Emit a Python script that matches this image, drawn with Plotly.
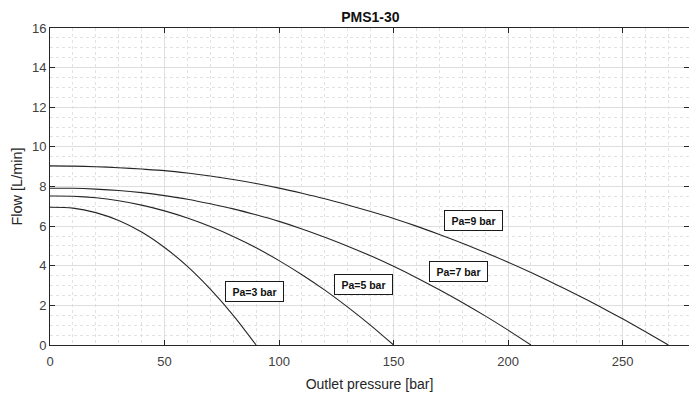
import plotly.graph_objects as go

# Outlet pressure [bar] sample positions and flow readings [L/min]
p3 = [0, 10, 20, 30, 40, 50, 60, 70, 80, 90]
q3 = [6.95, 6.91, 6.68, 6.28, 5.70, 4.92, 3.97, 2.82, 1.50, 0.0]

p5 = [0, 10, 20, 30, 40, 50, 60, 70, 80, 90, 100, 110, 120, 130, 140, 150]
q5 = [7.52, 7.51, 7.43, 7.28, 7.06, 6.77, 6.41, 5.98, 5.48, 4.91, 4.26, 3.55, 2.77, 1.91, 0.99, 0.0]

p7 = [0, 10, 20, 30, 40, 50, 60, 70, 80, 90, 100, 110, 120, 130, 140, 150,
      160, 170, 180, 190, 200, 210]
q7 = [7.91, 7.91, 7.87, 7.80, 7.69, 7.54, 7.36, 7.13, 6.87, 6.57, 6.24, 5.86,
      5.44, 4.99, 4.50, 3.97, 3.40, 2.79, 2.15, 1.47, 0.75, 0.0]

p9 = [0, 10, 20, 30, 40, 50, 60, 70, 80, 90, 100, 110, 120, 130, 140, 150,
      160, 170, 180, 190, 200, 210, 220, 230, 240, 250, 260, 270]
q9 = [9.04, 9.03, 9.00, 8.95, 8.88, 8.80, 8.68, 8.53, 8.35, 8.15, 7.92, 7.66,
      7.38, 7.07, 6.74, 6.39, 6.00, 5.58, 5.14, 4.67, 4.18, 3.66, 3.11, 2.54,
      1.94, 1.32, 0.67, 0.0]

label_texts = ["Pa=3 bar", "Pa=5 bar", "Pa=7 bar", "Pa=9 bar"]
label_x = [89.5, 137.0, 178.4, 185.0]
label_y = [2.68, 3.03, 3.70, 6.27]

x_ticks = [0, 50, 100, 150, 200, 250]
y_ticks = [0, 2, 4, 6, 8, 10, 12, 14, 16]

line_col = "#262626"
axis_col = "#262626"
font_fam = "Liberation Sans, Arial, Helvetica, sans-serif"

fig = go.Figure()
for px, qy in [(p3, q3), (p5, q5), (p7, q7), (p9, q9)]:
    fig.add_trace(go.Scatter(x=px, y=qy, mode="lines",
                             line=dict(color=line_col, width=1.1, shape="spline", smoothing=0.8),
                             showlegend=False, hoverinfo="skip"))

for t, lx, ly in zip(label_texts, label_x, label_y):
    fig.add_annotation(x=lx, y=ly, xref="x", yref="y", text="<b>" + t + "</b>",
                       showarrow=False, bgcolor="white", bordercolor="#1a1a1a",
                       borderwidth=1, borderpad=2, width=53, height=15,
                       font=dict(family=font_fam, size=10.5, color="#111111"))

axis_common = dict(
    showline=True, linecolor=axis_col, linewidth=1, mirror="ticks",
    ticks="inside", ticklen=5, tickcolor=axis_col, tickwidth=1,
    showgrid=True, gridcolor="#dedede", gridwidth=1,
    zeroline=False, automargin=False,
    tickfont=dict(family=font_fam, size=13, color="#404040"),
)

fig.update_xaxes(range=[0, 279], tickvals=x_ticks, **axis_common, ticklabelstandoff=4,
                 minor=dict(dtick=10, showgrid=True, gridcolor="#e2e2e2", griddash="dot", gridwidth=1, ticks=""),
                 title=dict(text="Outlet pressure [bar]", font=dict(family=font_fam, size=14, color="#262626"),
                            standoff=11))
fig.update_yaxes(range=[0, 16], tickvals=y_ticks, **axis_common,
                 minor=dict(dtick=0.5, showgrid=True, gridcolor="#e2e2e2", griddash="dot", gridwidth=1, ticks=""),
                 title=dict(text="Flow [L/min]", font=dict(family=font_fam, size=14.5, color="#262626"),
                            standoff=5))

fig.update_layout(
    width=689, height=394,
    margin=dict(l=50, r=0, t=28, b=49, autoexpand=False),
    paper_bgcolor="white", plot_bgcolor="white",
    title=dict(text="<b>PMS1-30</b>", x=0.5375, xanchor="center", yref="container",
               y=0.9576, yanchor="middle",
               font=dict(family=font_fam, size=14, color="#111111")),
)

fig.write_html("out.html", config={"displayModeBar": False},
               post_script="document.body.style.margin='0px';document.body.style.overflow='hidden';")
